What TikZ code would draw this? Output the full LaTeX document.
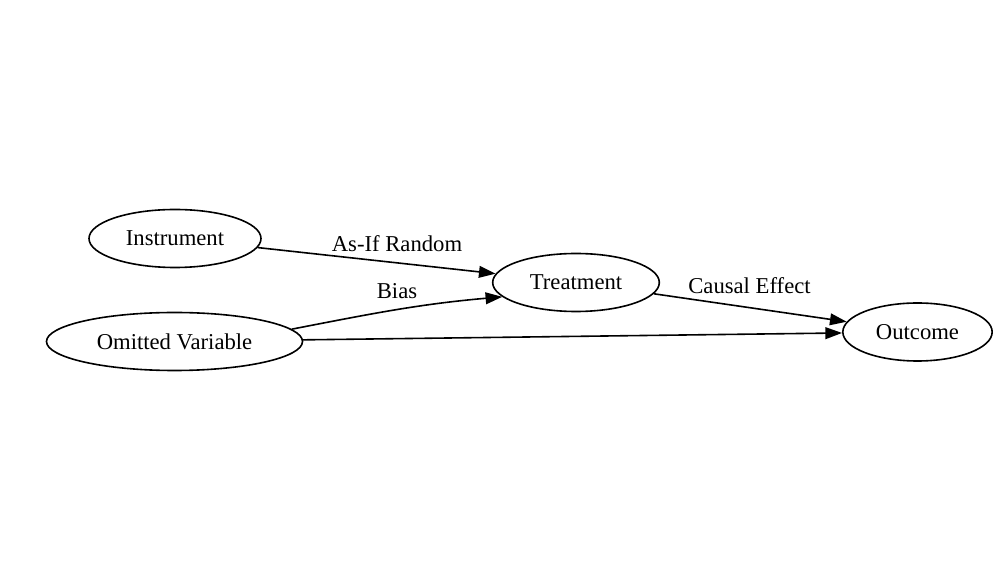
\documentclass[tikz,border=0pt]{standalone}
\usepackage{fontspec}
\setmainfont{Liberation Serif}
\usetikzlibrary{arrows.meta,shapes.geometric}
\tikzset{
  ivNode/.style={
    ellipse,
    draw=black,
    line width=1.2pt,
    inner sep=0pt,
    minimum height=43.5pt
  },
  ivArrow/.style={-{Triangle[length=12.5pt,width=8.8pt]}, line width=1.2pt, draw=black},
  ivLabel/.style={anchor=base, inner sep=0pt}
}

\begin{document}
\begin{tikzpicture}[x=0.75pt, y=-0.75pt, font=\fontsize{17pt}{20pt}\selectfont]
  \useasboundingbox (0,0) rectangle (1000,580);

  \node[ivNode, minimum width=129pt] (instrument) at (175,238.5) {Instrument};
  \node[ivNode, minimum width=192pt] (omitted) at (174.5,341.5) {Omitted Variable};
  \node[ivNode, minimum width=125pt] (treatment) at (576,282.5) {Treatment};
  \node[ivNode, minimum width=112pt] (outcome) at (917.5,332) {Outcome};

  \draw[ivArrow] (instrument) -- (treatment);
  \draw[ivArrow] (omitted.6.5) to[out=11, in=185] (treatment.191.5);
  \draw[ivArrow] (treatment) -- (outcome);
  \draw[ivArrow] (omitted) -- (outcome);

  \node[ivLabel] (randomLabel) at (397,251.7) {As-If Random};
  \node[ivLabel] (biasLabel) at (397,299) {Bias};
  \node[ivLabel] (effectLabel) at (749.5,294) {Causal Effect};
\end{tikzpicture}
\end{document}
